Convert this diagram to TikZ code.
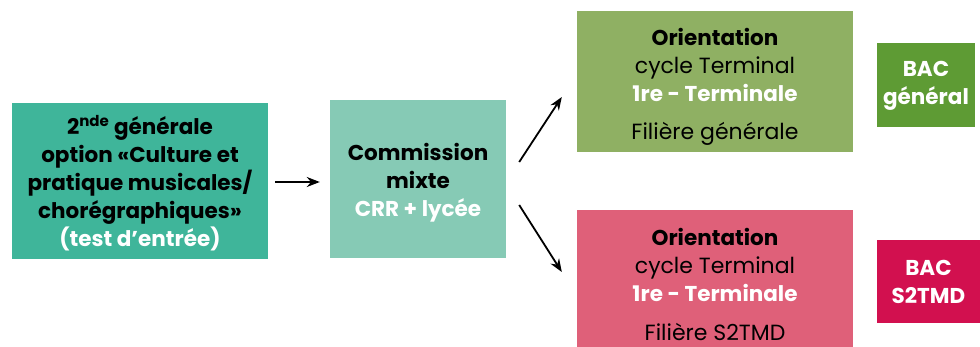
\documentclass[tikz,border=0pt]{standalone}
\usepackage{fontspec}
\setmainfont{Poppins}
\usetikzlibrary{arrows.meta,calc}
\definecolor{cteal}{HTML}{3FB59A}
\definecolor{clteal}{HTML}{86CAB5}
\definecolor{cgreen}{HTML}{8FB063}
\definecolor{cdgreen}{HTML}{5E9B34}
\definecolor{cpink}{HTML}{DF6079}
\definecolor{ccrim}{HTML}{D2104F}
\begin{document}
\begin{tikzpicture}[x=1pt,y=-1pt,
  boxst/.style={draw=none,inner sep=0pt,align=center,font=\fontsize{22}{28}\selectfont},
  bst/.style={boxst,font=\fontsize{21.5}{28}\selectfont\bfseries},
  arr/.style={-{Stealth[length=13pt,width=10pt]},line width=1.8pt}]
\useasboundingbox (0,0) rectangle (980,347);
\fill[cteal] (12,103) rectangle (268,259);
\fill[clteal] (330,100) rectangle (506,258);
\fill[cgreen] (577,11) rectangle (853,152);
\fill[cdgreen] (877,43) rectangle (975,127);
\fill[cpink] (577,210) rectangle (853,347);
\fill[ccrim] (877,240) rectangle (980,323);
\node[boxst,minimum width=256pt,minimum height=156pt] (b1) at (140,181) {};
\node[boxst,minimum width=176pt,minimum height=158pt] (b2) at (418,179) {};
\node[boxst,minimum width=276pt,minimum height=141pt] (b3) at (715,81.5) {};
\node[boxst,minimum width=98pt,minimum height=84pt] (b4) at (926,85) {};
\node[boxst,minimum width=276pt,minimum height=137pt] (b5) at (715,278.5) {};
\node[boxst,minimum width=103pt,minimum height=83pt] (b6) at (928.5,281.5) {};
\node[bst] (t1) at (140,183)
  {2\textsuperscript{nde} générale\\option «Culture et\\pratique musicales/\\chorégraphiques»\\\textcolor{white}{(test d’entrée)}};
\node[bst] (t2) at (418,183)
  {Commission\\mixte\\\textcolor{white}{CRR + lycée}};
\node[boxst] (t3) at (715,65) {\textbf{\fontsize{21.5}{28}\selectfont Orientation}\\cycle Terminal\\\textcolor{white}{\fontsize{21.5}{28}\selectfont\textbf{1re - Terminale}}};
\node[boxst] (t3b) at (715,134) {Filière générale};
\node[bst,text=white] (t4) at (926,86) {BAC\\général};
\node[boxst] (t5) at (715,265) {\textbf{\fontsize{21.5}{28}\selectfont Orientation}\\cycle Terminal\\\textcolor{white}{\fontsize{21.5}{28}\selectfont\textbf{1re - Terminale}}};
\node[boxst] (t5b) at (715,332) {Filière S2TMD};
\node[bst,text=white] (t6) at (928.5,282) {BAC\\S2TMD};
\draw[arr] ([xshift=7pt,yshift=-1pt]b1.east) -- ([xshift=-10pt,yshift=-3pt]b2.west);
\draw[arr] ([xshift=13pt,yshift=17pt]b2.east) -- ([xshift=-15pt,yshift=-15.5pt]b3.west);
\draw[arr] ([xshift=13pt,yshift=-26pt]b2.east) -- ([xshift=-15pt,yshift=6.5pt]b5.west);
\end{tikzpicture}
\end{document}
